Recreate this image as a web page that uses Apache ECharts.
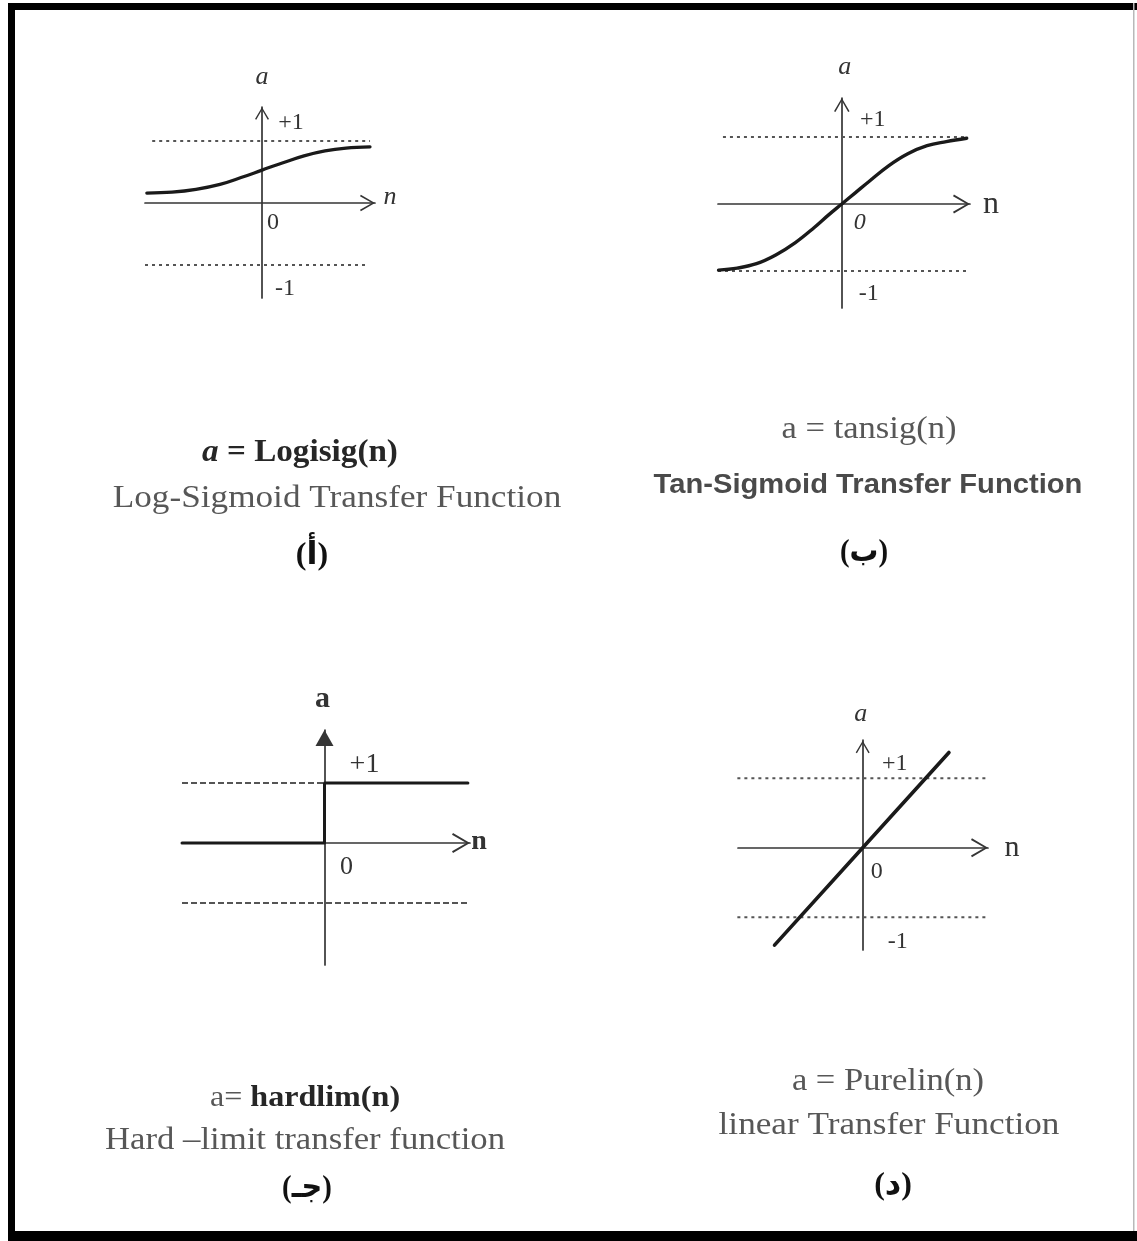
<!DOCTYPE html>
<html>
<head>
<meta charset="utf-8">
<script src="https://cdn.jsdelivr.net/npm/echarts@6/dist/echarts.min.js"></script>
<style>
  html, body { margin: 0; padding: 0; background: #ffffff; }
  #chart { width: 1137px; height: 1241px; }
</style>
</head>
<body>
<div id="chart"></div>
<script>
// ---- transfer-function samples (n = net input, a = output) ----
const logsigN = [-1.92, -1.5, -1.1, -0.7, -0.35, 0, 0.35, 0.7, 1.05, 1.4, 1.8];
const logsigA = [0.16, 0.175, 0.22, 0.30, 0.41, 0.53, 0.65, 0.76, 0.84, 0.885, 0.905];

const tansigN = [-2.24, -1.9, -1.55, -1.2, -0.85, -0.5, -0.25, 0, 0.25, 0.5, 0.85, 1.2, 1.55, 1.9, 2.27];
const tansigA = [-0.985, -0.955, -0.89, -0.76, -0.58, -0.35, -0.17, 0, 0.17, 0.34, 0.57, 0.75, 0.87, 0.93, 0.98];

const hardlimN = [-2.375, 0, 0, 2.39];
const hardlimA = [0, 0, 1, 1];

const purelinN = [-1.40, 0, 1.37];
const purelinA = [-1.40, 0, 1.37];

// saturation levels drawn as guide lines
const limitLevels = [1, -1];

// axis tick texts
const tickPlusOne = '+1';
const tickMinusOne = '-1';
const tickZero = '0';

// ---- layout ----
const SERIF = '"Liberation Serif", "DejaVu Serif", serif';
const SANS = '"Liberation Sans", "DejaVu Sans", sans-serif';
const ARABIC = '"Liberation Serif", "DejaVu Sans", serif';

// open chevron arrow head (tip at top, as ECharts rotates axis symbols)
const chevron = 'path://M0,17 L10,0 L20,17 L18.2,18 L10,3.6 L1.8,18 Z';

const panels = [
  { // logsig
    grid: { left: 145, top: 107, width: 230, height: 191 },
    x: [-1.95, 1.883], y: [-1.532, 1.548],
    upper: [-1.83, 1.80], lower: [-1.95, 1.75],
    guide: { type: [3, 4], width: 2 },
    xArrow: { symbol: chevron, size: [18, 15] },
    yArrow: { symbol: chevron, size: [14, 13] },
    curveWidth: 3.2, smooth: 0.4
  },
  { // tansig
    grid: { left: 718, top: 98, width: 252, height: 210 },
    x: [-2.25, 2.33], y: [-1.55, 1.58],
    upper: [-2.16, 2.28], lower: [-2.25, 2.28],
    guide: { type: [3, 4], width: 2 },
    xArrow: { symbol: chevron, size: [22, 17] },
    yArrow: { symbol: chevron, size: [16, 14] },
    curveWidth: 3.4, smooth: 0.4
  },
  { // hardlim
    grid: { left: 182, top: 730, width: 288, height: 235 },
    x: [-2.375, 2.425], y: [-2.033, 1.883],
    upper: [-2.375, 0], lower: [-2.375, 2.39],
    guide: { type: [6, 3], width: 2 },
    xArrow: { symbol: chevron, size: [22, 18] },
    yArrow: { symbol: 'triangle', size: [18, 16] },
    curveWidth: 3, smooth: false
  },
  { // purelin
    grid: { left: 738, top: 740, width: 250, height: 210 },
    x: [-1.98, 1.99], y: [-1.47, 1.55],
    upper: [-1.99, 1.96], lower: [-1.99, 1.96],
    guide: { type: [3, 4], width: 2 },
    xArrow: { symbol: chevron, size: [20, 17] },
    yArrow: { symbol: chevron, size: [14, 14] },
    curveWidth: 3.6, smooth: false
  }
];

const curves = [
  [logsigN, logsigA],
  [tansigN, tansigA],
  [hardlimN, hardlimA],
  [purelinN, purelinA]
];

function pairs(xs, ys) { return xs.map((x, i) => [x, ys[i]]); }

const AXIS_COLOR = '#353535';
const INK = '#1a1a1a';

const grids = [], xAxes = [], yAxes = [], series = [];

panels.forEach((p, i) => {
  grids.push(Object.assign({ containLabel: false }, p.grid));
  xAxes.push({
    gridIndex: i, type: 'value', min: p.x[0], max: p.x[1],
    axisLine: {
      onZero: true,
      lineStyle: { color: AXIS_COLOR, width: 1.7 },
      symbol: ['none', p.xArrow.symbol],
      symbolSize: p.xArrow.size,
      symbolOffset: [0, -p.xArrow.size[1] / 2]
    },
    axisTick: { show: false }, axisLabel: { show: false }, splitLine: { show: false }
  });
  yAxes.push({
    gridIndex: i, type: 'value', min: p.y[0], max: p.y[1],
    axisLine: {
      onZero: true,
      lineStyle: { color: AXIS_COLOR, width: 1.7 },
      symbol: ['none', p.yArrow.symbol],
      symbolSize: p.yArrow.size,
      symbolOffset: [0, -p.yArrow.size[1] / 2]
    },
    axisTick: { show: false }, axisLabel: { show: false }, splitLine: { show: false }
  });

  // dotted saturation guides at +1 and -1
  [p.upper, p.lower].forEach((span, k) => {
    series.push({
      type: 'line', xAxisIndex: i, yAxisIndex: i, symbol: 'none', silent: true, z: 1,
      data: [[span[0], limitLevels[k]], [span[1], limitLevels[k]]],
      lineStyle: { color: '#555555', width: p.guide.width, type: p.guide.type }
    });
  });

  series.push({
    type: 'line', xAxisIndex: i, yAxisIndex: i, symbol: 'none', silent: true, z: 3,
    smooth: p.smooth,
    data: pairs(curves[i][0], curves[i][1]),
    lineStyle: { color: INK, width: p.curveWidth, cap: 'round', join: 'round' }
  });
});

const chart = echarts.init(document.getElementById('chart'), null, { renderer: 'canvas' });
chart.setOption({
  backgroundColor: '#ffffff',
  animation: false,
  grid: grids, xAxis: xAxes, yAxis: yAxes, series: series
});

// axis letters and tick texts, anchored to data positions
const axisTexts = [
  // logsig
  { panel: 0, text: 'a', at: [0, panels[0].y[1]], off: [0, -30], font: 'italic 26px ' + SERIF },
  { panel: 0, text: tickPlusOne, at: [0, 1], off: [29, -18], font: '24px ' + SERIF },
  { panel: 0, text: 'n', at: [panels[0].x[1], 0], off: [15, -6], font: 'italic 26px ' + SERIF },
  { panel: 0, text: tickZero, at: [0, 0], off: [11, 20], font: '24px ' + SERIF },
  { panel: 0, text: tickMinusOne, at: [0, -1], off: [23, 24], font: '24px ' + SERIF },
  // tansig
  { panel: 1, text: 'a', at: [0, panels[1].y[1]], off: [3, -31], font: 'italic 26px ' + SERIF },
  { panel: 1, text: tickPlusOne, at: [0, 1], off: [31, -17], font: '24px ' + SERIF },
  { panel: 1, text: 'n', at: [panels[1].x[1], 0], off: [21, 1], font: '32px ' + SERIF },
  { panel: 1, text: tickZero, at: [0, 0], off: [18, 19], font: 'italic 24px ' + SERIF },
  { panel: 1, text: tickMinusOne, at: [0, -1], off: [27, 23], font: '24px ' + SERIF },
  // hardlim
  { panel: 2, text: 'a', at: [0, panels[2].y[1]], off: [-2, -31], font: 'bold 30px ' + SERIF },
  { panel: 2, text: tickPlusOne, at: [0, 1], off: [40, -18], font: '28px ' + SERIF },
  { panel: 2, text: 'n', at: [panels[2].x[1], 0], off: [9, -1], font: 'bold 28px ' + SERIF },
  { panel: 2, text: tickZero, at: [0, 0], off: [22, 24], font: '26px ' + SERIF },
  // purelin
  { panel: 3, text: 'a', at: [0, panels[3].y[1]], off: [-2, -26], font: 'italic 26px ' + SERIF },
  { panel: 3, text: tickPlusOne, at: [0, 1], off: [32, -15], font: '24px ' + SERIF },
  { panel: 3, text: 'n', at: [panels[3].x[1], 0], off: [24, 0], font: '30px ' + SERIF },
  { panel: 3, text: tickZero, at: [0, 0], off: [14, 24], font: '24px ' + SERIF },
  { panel: 3, text: tickMinusOne, at: [0, -1], off: [35, 24], font: '24px ' + SERIF }
];

// captions under each panel
const GREY = '#575757';
const DARK = '#262626';
const captions = [
  { text: '{bi|a} = Logisig(n)', x: 300, y: 453, font: 'bold 31px ' + SERIF, fill: DARK, sx: 1.07,
    rich: { bi: { font: 'bold italic 31px ' + SERIF, fill: DARK } } },
  { text: 'Log-Sigmoid Transfer Function', x: 337, y: 499, font: '32px ' + SERIF, fill: GREY, sx: 1.1 },
  { text: '(أ)', x: 312, y: 556, font: 'bold 32px ' + ARABIC, fill: '#111', sx: 1.0 },

  { text: 'a = tansig(n)', x: 869, y: 430, font: '32px ' + SERIF, fill: GREY, sx: 1.08 },
  { text: 'Tan-Sigmoid Transfer Function', x: 868, y: 486, font: 'bold 27px ' + SANS, fill: '#4a4a4a', sx: 1.08 },
  { text: '(ب)', x: 864, y: 553, font: 'bold 32px ' + ARABIC, fill: '#111', sx: 0.9 },

  { text: '{r|a=} hardlim(n)', x: 305, y: 1098, font: 'bold 30px ' + SERIF, fill: DARK, sx: 1.07,
    rich: { r: { font: '30px ' + SERIF, fill: GREY } } },
  { text: 'Hard \u2013limit transfer function', x: 305, y: 1141, font: '31px ' + SERIF, fill: GREY, sx: 1.12 },
  { text: '(جـ)', x: 307, y: 1189, font: 'bold 32px ' + ARABIC, fill: '#111', sx: 0.9 },

  { text: 'a = Purelin(n)', x: 888, y: 1082, font: '32px ' + SERIF, fill: GREY, sx: 1.08 },
  { text: 'linear Transfer Function', x: 889, y: 1126, font: '32px ' + SERIF, fill: GREY, sx: 1.1 },
  { text: '(د)', x: 893, y: 1186, font: 'bold 32px ' + ARABIC, fill: '#111', sx: 1.0 }
];

const frame = [
  { type: 'rect', shape: { x: 8, y: 3, width: 7, height: 1238 }, style: { fill: '#000' }, silent: true },
  { type: 'rect', shape: { x: 8, y: 3, width: 1129, height: 7 }, style: { fill: '#000' }, silent: true },
  { type: 'rect', shape: { x: 8, y: 1231, width: 1129, height: 10 }, style: { fill: '#000' }, silent: true },
  { type: 'rect', shape: { x: 1133, y: 3, width: 1.5, height: 1228 }, style: { fill: '#b8b8b8' }, silent: true }
];

const captionEls = captions.map(c => ({
  type: 'text', x: c.x, y: c.y, scaleX: c.sx, silent: true,
  style: {
    text: c.text, font: c.font, fill: c.fill, rich: c.rich,
    textAlign: 'center', textVerticalAlign: 'middle'
  }
}));

const labelEls = axisTexts.map(l => {
  const p = chart.convertToPixel({ gridIndex: l.panel }, l.at);
  return {
    type: 'text', x: p[0] + l.off[0], y: p[1] + l.off[1], silent: true,
    style: { text: l.text, font: l.font, fill: '#333', textAlign: 'center', textVerticalAlign: 'middle' }
  };
});

chart.setOption({ graphic: { elements: frame.concat(captionEls, labelEls) } });
</script>
</body>
</html>
